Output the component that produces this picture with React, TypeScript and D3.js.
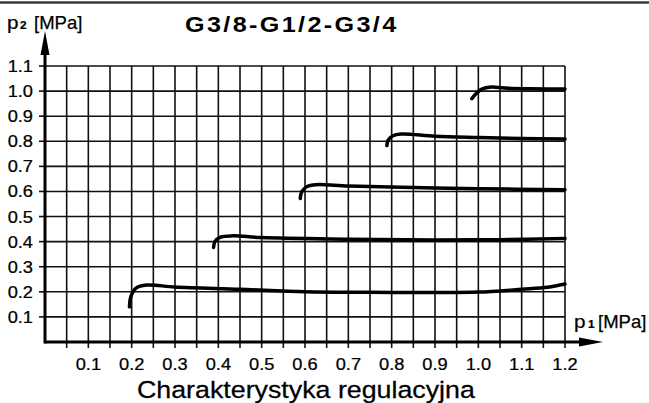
import React, { useEffect, useRef } from "react";
import * as d3 from "d3";

// regulation curves p2(p1), one per set pressure
const curve02: [number, number][] = [[0.195, 0.14], [0.198, 0.18], [0.21, 0.215], [0.235, 0.227], [0.3, 0.219], [0.45, 0.21], [0.6, 0.2], [0.75, 0.198], [0.9, 0.197], [1.0, 0.199], [1.1, 0.21], [1.16, 0.218], [1.2, 0.231]];
const curve04: [number, number][] = [[0.389, 0.377], [0.392, 0.4], [0.405, 0.418], [0.434, 0.423], [0.5, 0.416], [0.7, 0.41], [0.9, 0.407], [1.05, 0.408], [1.2, 0.413]];
const curve06: [number, number][] = [[0.589, 0.572], [0.593, 0.6], [0.605, 0.62], [0.625, 0.627], [0.7, 0.622], [0.85, 0.616], [1.0, 0.611], [1.2, 0.607]];
const curve08: [number, number][] = [[0.789, 0.783], [0.792, 0.805], [0.803, 0.822], [0.822, 0.829], [0.9, 0.82], [1.0, 0.815], [1.1, 0.811], [1.2, 0.809]];
const curve10: [number, number][] = [[0.985, 0.97], [0.995, 0.99], [1.008, 1.008], [1.03, 1.016], [1.06, 1.012], [1.12, 1.009], [1.2, 1.008]];

const xTicks = [0.1, 0.2, 0.3, 0.4, 0.5, 0.6, 0.7, 0.8, 0.9, 1.0, 1.1, 1.2];
const yTicks = [0.1, 0.2, 0.3, 0.4, 0.5, 0.6, 0.7, 0.8, 0.9, 1.0, 1.1];
const xGrid = d3.range(1, 25).map(i => i * 0.05);

const title = "G3/8-G1/2-G3/4";
const caption = "Charakterystyka regulacyjna";

export default function App() {
  const ref = useRef<SVGSVGElement>(null);

  useEffect(() => {
    const svg = d3.select(ref.current);
    svg.selectAll("*").remove();

    const x = d3.scaleLinear().domain([0, 1.2]).range([45, 565]);
    const y = d3.scaleLinear().domain([0, 1.1]).range([342, 66]);
    const font = "Arial, 'Liberation Sans', sans-serif";
    const sx = 1.12; // the original lettering is a bit wider than Arial

    svg.append("rect").attr("width", 649).attr("height", 403).attr("fill", "#fff");
    svg.append("line").attr("x1", 0).attr("x2", 649).attr("y1", 2.5).attr("y2", 2.5)
      .attr("stroke", "#3a3a3a").attr("stroke-width", 2.5);

    const g = svg.append("g");
    // grid
    g.selectAll(".hg").data(yTicks).join("line")
      .attr("x1", x(0)).attr("x2", x(1.2))
      .attr("y1", d => y(d)).attr("y2", d => y(d))
      .attr("stroke", "#111").attr("stroke-width", 1.6);
    g.selectAll(".vg").data(xGrid).join("line")
      .attr("x1", d => x(d)).attr("x2", d => x(d))
      .attr("y1", y(1.1)).attr("y2", y(0) + 6)
      .attr("stroke", "#111").attr("stroke-width", 1.6);
    g.selectAll(".yt").data(yTicks).join("line")
      .attr("x1", x(0) - 6).attr("x2", x(0))
      .attr("y1", d => y(d)).attr("y2", d => y(d))
      .attr("stroke", "#111").attr("stroke-width", 1.6);

    // axes with arrows
    g.append("line").attr("x1", x(0)).attr("x2", 585).attr("y1", y(0)).attr("y2", y(0))
      .attr("stroke", "#000").attr("stroke-width", 3);
    g.append("line").attr("x1", x(0)).attr("x2", x(0)).attr("y1", y(0) + 1.5).attr("y2", 50)
      .attr("stroke", "#000").attr("stroke-width", 3);
    g.append("path").attr("d", `M603,${y(0)} L579,${y(0) - 4.5} L579,${y(0) + 4.5} Z`).attr("fill", "#000");
    g.append("path").attr("d", `M${x(0)},31 L${x(0) - 4.5},55 L${x(0) + 4.5},55 Z`).attr("fill", "#000");

    // tick labels (thin stroke to match the heavier scanned lettering)
    g.selectAll(".xl").data(xTicks).join("text")
      .attr("transform", d => `translate(${x(d)},370) scale(${sx},1)`)
      .attr("text-anchor", "middle").attr("font-family", font).attr("font-size", 16.3)
      .attr("stroke", "#000").attr("stroke-width", 0.25)
      .text(d => d.toFixed(1));
    g.selectAll(".yl").data(yTicks).join("text")
      .attr("transform", d => `translate(33,${y(d) + 6}) scale(${sx},1)`)
      .attr("text-anchor", "end").attr("font-family", font).attr("font-size", 16.3)
      .attr("stroke", "#000").attr("stroke-width", 0.25)
      .text(d => d.toFixed(1));

    // curves
    const line = d3.line<[number, number]>().x(d => x(d[0])).y(d => y(d[1])).curve(d3.curveCatmullRom);
    g.selectAll(".curve").data([curve02, curve04, curve06, curve08, curve10]).join("path")
      .attr("d", d => line(d))
      .attr("fill", "none").attr("stroke", "#000").attr("stroke-width", 3.5)
      .attr("stroke-linecap", "round");

    // labels
    svg.append("text").attr("transform", `translate(185,32) scale(${sx},1)`)
      .attr("font-family", font).attr("font-size", 22.5).attr("font-weight", "bold")
      .attr("letter-spacing", 2.1).text(title);

    const axisLabel = (x0: number, y0: number, sub: string, subDx: number, unitDx: number) => {
      const t = svg.append("g").attr("font-family", font).attr("fill", "#000")
        .attr("stroke", "#000").attr("stroke-width", 0.25);
      t.append("text").attr("transform", `translate(${x0},${y0}) scale(${sx},1)`).attr("font-size", 18.5).text("p");
      t.append("text").attr("transform", `translate(${x0 + subDx},${y0}) scale(${sx},1)`)
        .attr("font-size", 10.5).attr("font-weight", "bold").text(sub);
      t.append("text").attr("transform", `translate(${x0 + unitDx},${y0}) scale(1.0,1)`).attr("font-size", 18.5).text("[MPa]");
    };
    axisLabel(7, 29, "2", 13, 27);
    axisLabel(574, 328, "1", 14, 24);

    svg.append("text").attr("transform", `translate(137,398) scale(${sx + 0.02},1)`)
      .attr("font-family", font).attr("font-size", 23.5)
      .attr("stroke", "#000").attr("stroke-width", 0.25)
      .text(caption);
  }, []);

  return (
    <svg ref={ref} width={649} height={403}
      style={{ position: "absolute", left: 0, top: 0, display: "block" }} />
  );
}
